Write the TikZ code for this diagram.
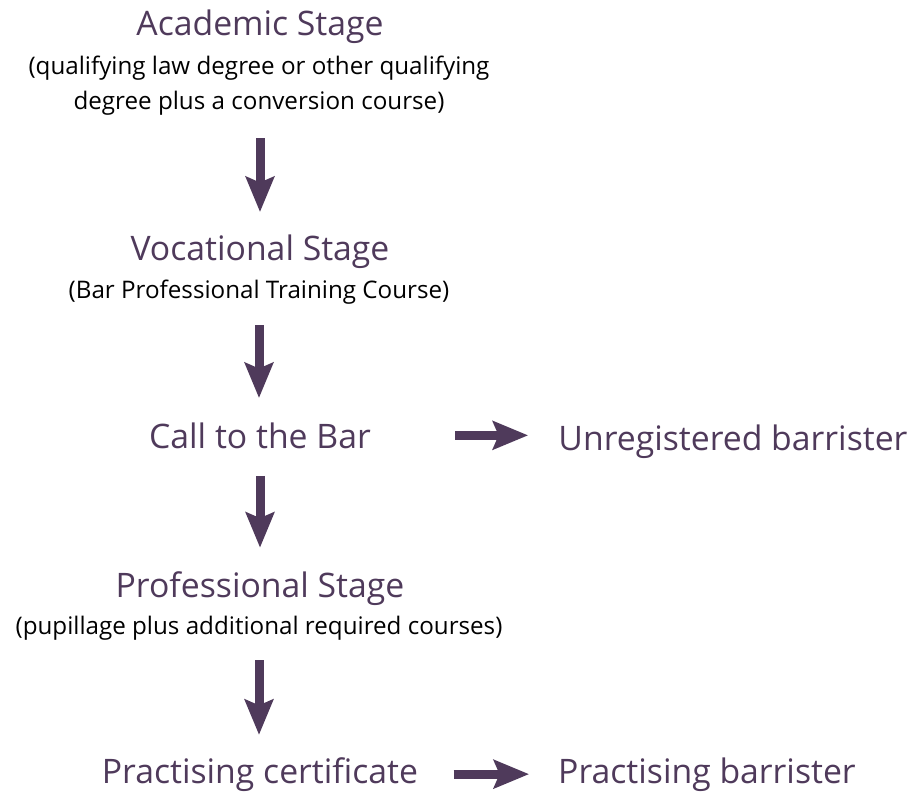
\documentclass[tikz,border=0pt]{standalone}
\usepackage{fontspec}
\setmainfont{Open Sans}
\usetikzlibrary{arrows.meta}
\definecolor{plum}{HTML}{4F3A5B}

\begin{document}
\begin{tikzpicture}[x=0.025cm, y=-0.025cm]
            \tikzstyle{stage} = [text=plum, font=\fontsize{24}{28}\selectfont, inner sep=0pt, anchor=base]
            \tikzstyle{detail} = [text=black, font=\fontsize{17.2}{24.9}\selectfont, align=center, inner sep=0pt, anchor=base]
            \tikzstyle{flow} = [draw=plum, line width=6.4pt, -{Stealth[length=25pt, width=20pt, inset=4pt]}]
            \useasboundingbox (0, 0) rectangle (920, 794);
            \node[stage] (academic) at (260, 36) {Academic Stage};
            \node[detail] (academicnote) at (259, 110) {(qualifying law degree or other qualifying\\degree plus a conversion course)};
            \node[stage] (vocational) at (260, 260) {Vocational Stage};
            \node[detail] (vocationalnote) at (259, 298) {(Bar Professional Training Course)};
            \node[stage] (call) at (260, 448) {Call to the Bar};
            \node[stage] (unregistered) at (733, 450) {Unregistered barrister};
            \node[stage] (professional) at (260, 597) {Professional Stage};
            \node[detail] (professionalnote) at (259, 634) {(pupillage plus additional required courses)};
            \node[stage] (certificate) at (260, 783) {Practising certificate};
            \node[stage] (practising) at (707, 783) {Practising barrister};
            % downward steps
            \draw[flow, shorten <=0.55cm, shorten >=0.55cm] (academicnote.south -| academic.south) -- (vocational.north);
            \draw[flow, shorten <=0.53cm, shorten >=0.6cm] (vocationalnote.south) -- (vocationalnote.south |- call.north);
            \draw[flow, shorten <=0.68cm, shorten >=0.58cm] (call.south) -- (call.south |- professional.north);
            \draw[flow, shorten <=0.5cm, shorten >=0.55cm] (professionalnote.south) -- (professionalnote.south |- certificate.north);
            % sideways steps
            \draw[flow, shorten <=2.1cm, shorten >=0.75cm] (call.east) -- (call.east -| unregistered.west);
            \draw[flow, shorten <=0.88cm, shorten >=0.72cm] (certificate.east) -- (certificate.east -| practising.west);
        \end{tikzpicture}
\end{document}
